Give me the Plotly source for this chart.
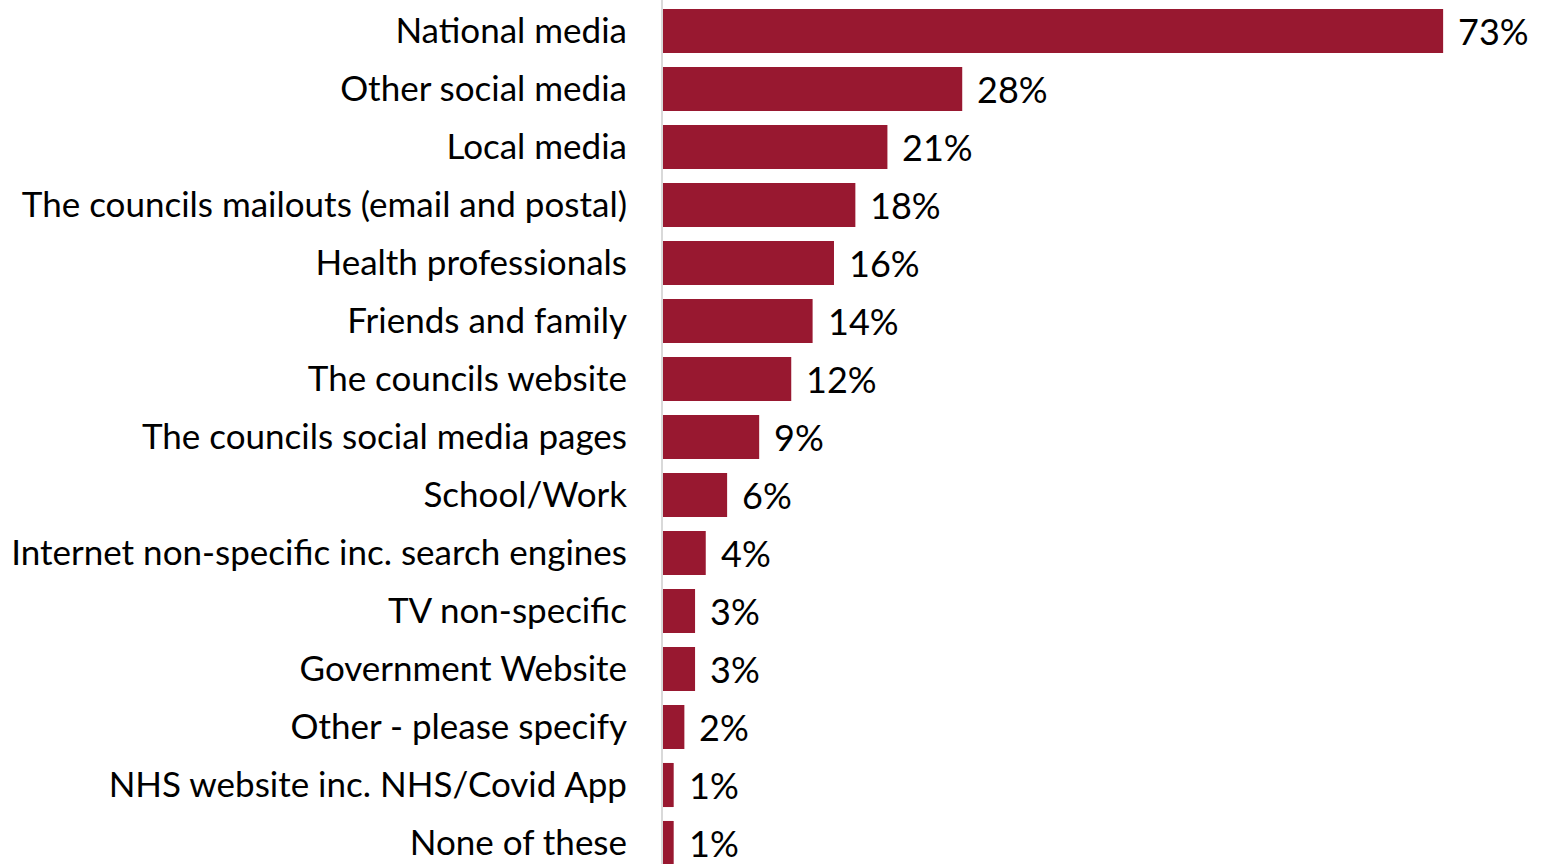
import plotly.graph_objects as go

# Sources of information, share of respondents (%)
categories = [
    "National media",
    "Other social media",
    "Local media",
    "The councils mailouts (email and postal)",
    "Health professionals",
    "Friends and family",
    "The councils website",
    "The councils social media pages",
    "School/Work",
    "Internet non-specific inc. search engines",
    "TV non-specific",
    "Government Website",
    "Other - please specify",
    "NHS website inc. NHS/Covid App",
    "None of these",
]
values = [73, 28, 21, 18, 16, 14, 12, 9, 6, 4, 3, 3, 2, 1, 1]
value_labels = [f"{v}%" for v in values]

BAR_COLOR = "#981830"
FONT = "Lato"
LABEL_SIZE = 35
VALUE_SIZE = 36

positions = list(range(len(categories)))

fig = go.Figure()
fig.add_trace(go.Bar(
    x=values,
    y=positions,
    orientation="h",
    marker=dict(color=BAR_COLOR, line=dict(width=0)),
    width=0.76,
    hoverinfo="skip",
))

for pos, v, lab in zip(positions, values, value_labels):
    fig.add_annotation(
        x=v, y=pos, xref="x", yref="y",
        text=lab, showarrow=False,
        xanchor="left", yanchor="middle",
        xshift=13, yshift=0,
        font=dict(family=FONT, size=VALUE_SIZE, color="#000000"),
    )

fig.update_layout(
    width=1550, height=864,
    margin=dict(l=663, r=0, t=0, b=0),
    paper_bgcolor="white",
    plot_bgcolor="white",
    showlegend=False,
    font=dict(family=FONT, size=LABEL_SIZE, color="#000000"),
)
fig.update_xaxes(
    range=[0, 83.0],
    showgrid=False, zeroline=False, showticklabels=False,
    showline=False, fixedrange=True,
)
fig.update_yaxes(
    tickmode="array", tickvals=positions, ticktext=categories,
    range=[14.362, -0.534],
    showgrid=False, zeroline=False,
    showline=True, linecolor="#D9D9D9", linewidth=2,
    ticks="", ticklabelstandoff=27,
    tickfont=dict(family=FONT, size=LABEL_SIZE, color="#000000"),
    fixedrange=True,
)

fig.write_html("out.html")
